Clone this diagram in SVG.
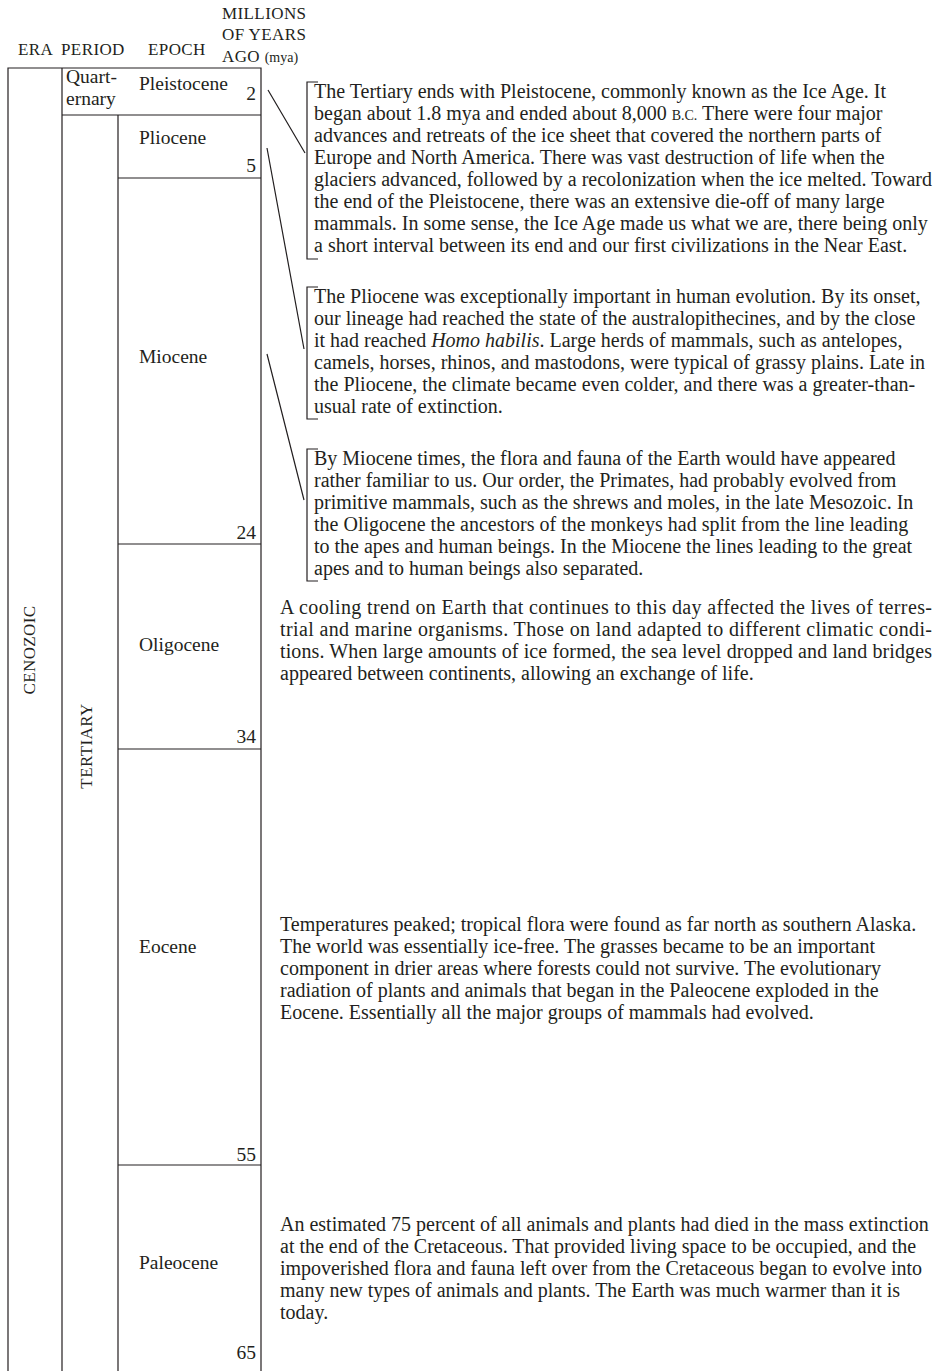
<svg xmlns="http://www.w3.org/2000/svg" width="935" height="1371" viewBox="0 0 935 1371">
<style>
text{font-family:"Liberation Serif","Times New Roman",serif;fill:#231f20}
.hd{font-size:17px;letter-spacing:0.4px}
.lb{font-size:19.5px}
.num{font-size:19.5px;text-anchor:end}
.body{font-size:20px}
.rot{font-size:17px;letter-spacing:0.4px;text-anchor:middle}
.ln{stroke:#231f20;stroke-width:1.2;fill:none}
.sc{font-size:14px}
</style>
<rect width="935" height="1371" fill="#fff"/>
<g id="header">
<text class="hd" x="18" y="55">ERA</text>
<text class="hd" x="61" y="55">PERIOD</text>
<text class="hd" x="148" y="55">EPOCH</text>
<text class="hd" x="222" y="19">MILLIONS</text>
<text class="hd" x="222" y="40">OF YEARS</text>
<text class="hd" x="222" y="62">AGO <tspan style="font-size:14px;letter-spacing:0">(mya)</tspan></text>
</g>
<g id="table">
<path class="ln" d="M8,1371V68H261V1371M62,68V1371M62,115H261M118,115V1371M118,178H261M118,544H261M118,749H261M118,1165H261"/>
</g>
<g id="era"><text class="rot" transform="translate(35,650) rotate(-90)">CENOZOIC</text></g>
<g id="period-quaternary"><text class="lb" x="66" y="83">Quart-</text><text class="lb" x="66" y="105">ernary</text></g>
<g id="period-tertiary"><text class="rot" transform="translate(92,746) rotate(-90)">TERTIARY</text></g>
<g id="pleistocene"><text class="lb" x="139" y="90">Pleistocene</text><text class="num" x="256" y="100">2</text></g>
<g id="pliocene"><text class="lb" x="139" y="144">Pliocene</text><text class="num" x="256" y="172">5</text></g>
<g id="miocene"><text class="lb" x="139" y="363">Miocene</text><text class="num" x="256" y="539">24</text></g>
<g id="oligocene"><text class="lb" x="139" y="651">Oligocene</text><text class="num" x="256" y="743">34</text></g>
<g id="eocene"><text class="lb" x="139" y="953">Eocene</text><text class="num" x="256" y="1161">55</text></g>
<g id="paleocene"><text class="lb" x="139" y="1269">Paleocene</text><text class="num" x="256" y="1359">65</text></g>
<g id="connectors">
<path class="ln" d="M268,90L305,153M267,148L304,349M267,354L304,500"/>
<path class="ln" d="M318,82H307V259H318M318,287H307V419H318M318,449H307V581H318"/>
</g>
<g id="note-pleistocene">
<text class="body" x="314" y="98">The Tertiary ends with Pleistocene, commonly known as the Ice Age. It</text>
<text class="body" x="314" y="120">began about 1.8 mya and ended about 8,000 <tspan class="sc">B.C.</tspan> There were four major</text>
<text class="body" x="314" y="142">advances and retreats of the ice sheet that covered the northern parts of</text>
<text class="body" x="314" y="164">Europe and North America. There was vast destruction of life when the</text>
<text class="body" x="314" y="186">glaciers advanced, followed by a recolonization when the ice melted. Toward</text>
<text class="body" x="314" y="208">the end of the Pleistocene, there was an extensive die-off of many  large</text>
<text class="body" x="314" y="230">mammals. In some sense, the Ice Age made us what we are, there being  only</text>
<text class="body" x="314" y="252">a short interval between its end and our first civilizations in the Near  East.</text>
</g>
<g id="note-pliocene">
<text class="body" x="314" y="303">The Pliocene was exceptionally important in human evolution. By its onset,</text>
<text class="body" x="314" y="325">our lineage had reached the state of the australopithecines, and by the close</text>
<text class="body" x="314" y="347">it had reached <tspan font-style="italic">Homo habilis</tspan>. Large herds of mammals, such as antelopes,</text>
<text class="body" x="314" y="369">camels, horses, rhinos, and mastodons, were typical of grassy plains. Late in</text>
<text class="body" x="314" y="391">the Pliocene, the climate became even colder, and there was a greater-than-</text>
<text class="body" x="314" y="413">usual rate of extinction.</text>
</g>
<g id="note-miocene">
<text class="body" x="314" y="465">By Miocene times, the flora and fauna of the Earth would have appeared</text>
<text class="body" x="314" y="487">rather familiar to us. Our order, the Primates, had probably evolved from</text>
<text class="body" x="314" y="509">primitive mammals, such as the shrews and moles, in the late Mesozoic. In</text>
<text class="body" x="314" y="531">the Oligocene the ancestors of the monkeys had split from the line leading</text>
<text class="body" x="314" y="553">to the apes and human beings. In the Miocene the lines leading to the great</text>
<text class="body" x="314" y="575">apes and to human beings also separated.</text>
</g>
<g id="note-oligocene">
<text class="body" x="280" y="614" textLength="652" lengthAdjust="spacing">A cooling trend on Earth that continues to this day affected the lives of terres-</text>
<text class="body" x="280" y="636" textLength="652" lengthAdjust="spacing">trial and marine organisms. Those on land adapted to different climatic condi-</text>
<text class="body" x="280" y="658" textLength="652" lengthAdjust="spacing">tions. When large amounts of ice formed, the sea level dropped and land bridges</text>
<text class="body" x="280" y="680">appeared between continents, allowing an exchange of life.</text>
</g>
<g id="note-eocene">
<text class="body" x="280" y="931">Temperatures peaked; tropical flora were found as far north as southern Alaska.</text>
<text class="body" x="280" y="953">The world was essentially ice-free. The grasses became to be an important</text>
<text class="body" x="280" y="975">component in drier areas where forests could not survive. The evolutionary</text>
<text class="body" x="280" y="997">radiation of plants and animals that began in the Paleocene exploded in the</text>
<text class="body" x="280" y="1019">Eocene. Essentially all the major groups of mammals had evolved.</text>
</g>
<g id="note-paleocene">
<text class="body" x="280" y="1231">An estimated 75 percent of all animals and plants had died in the mass extinction</text>
<text class="body" x="280" y="1253">at the end of the Cretaceous. That provided living space to be occupied, and the</text>
<text class="body" x="280" y="1275">impoverished flora and fauna left over from the Cretaceous began to evolve into</text>
<text class="body" x="280" y="1297">many new types of animals and plants. The Earth was much warmer than it is</text>
<text class="body" x="280" y="1319">today.</text>
</g>
</svg>
